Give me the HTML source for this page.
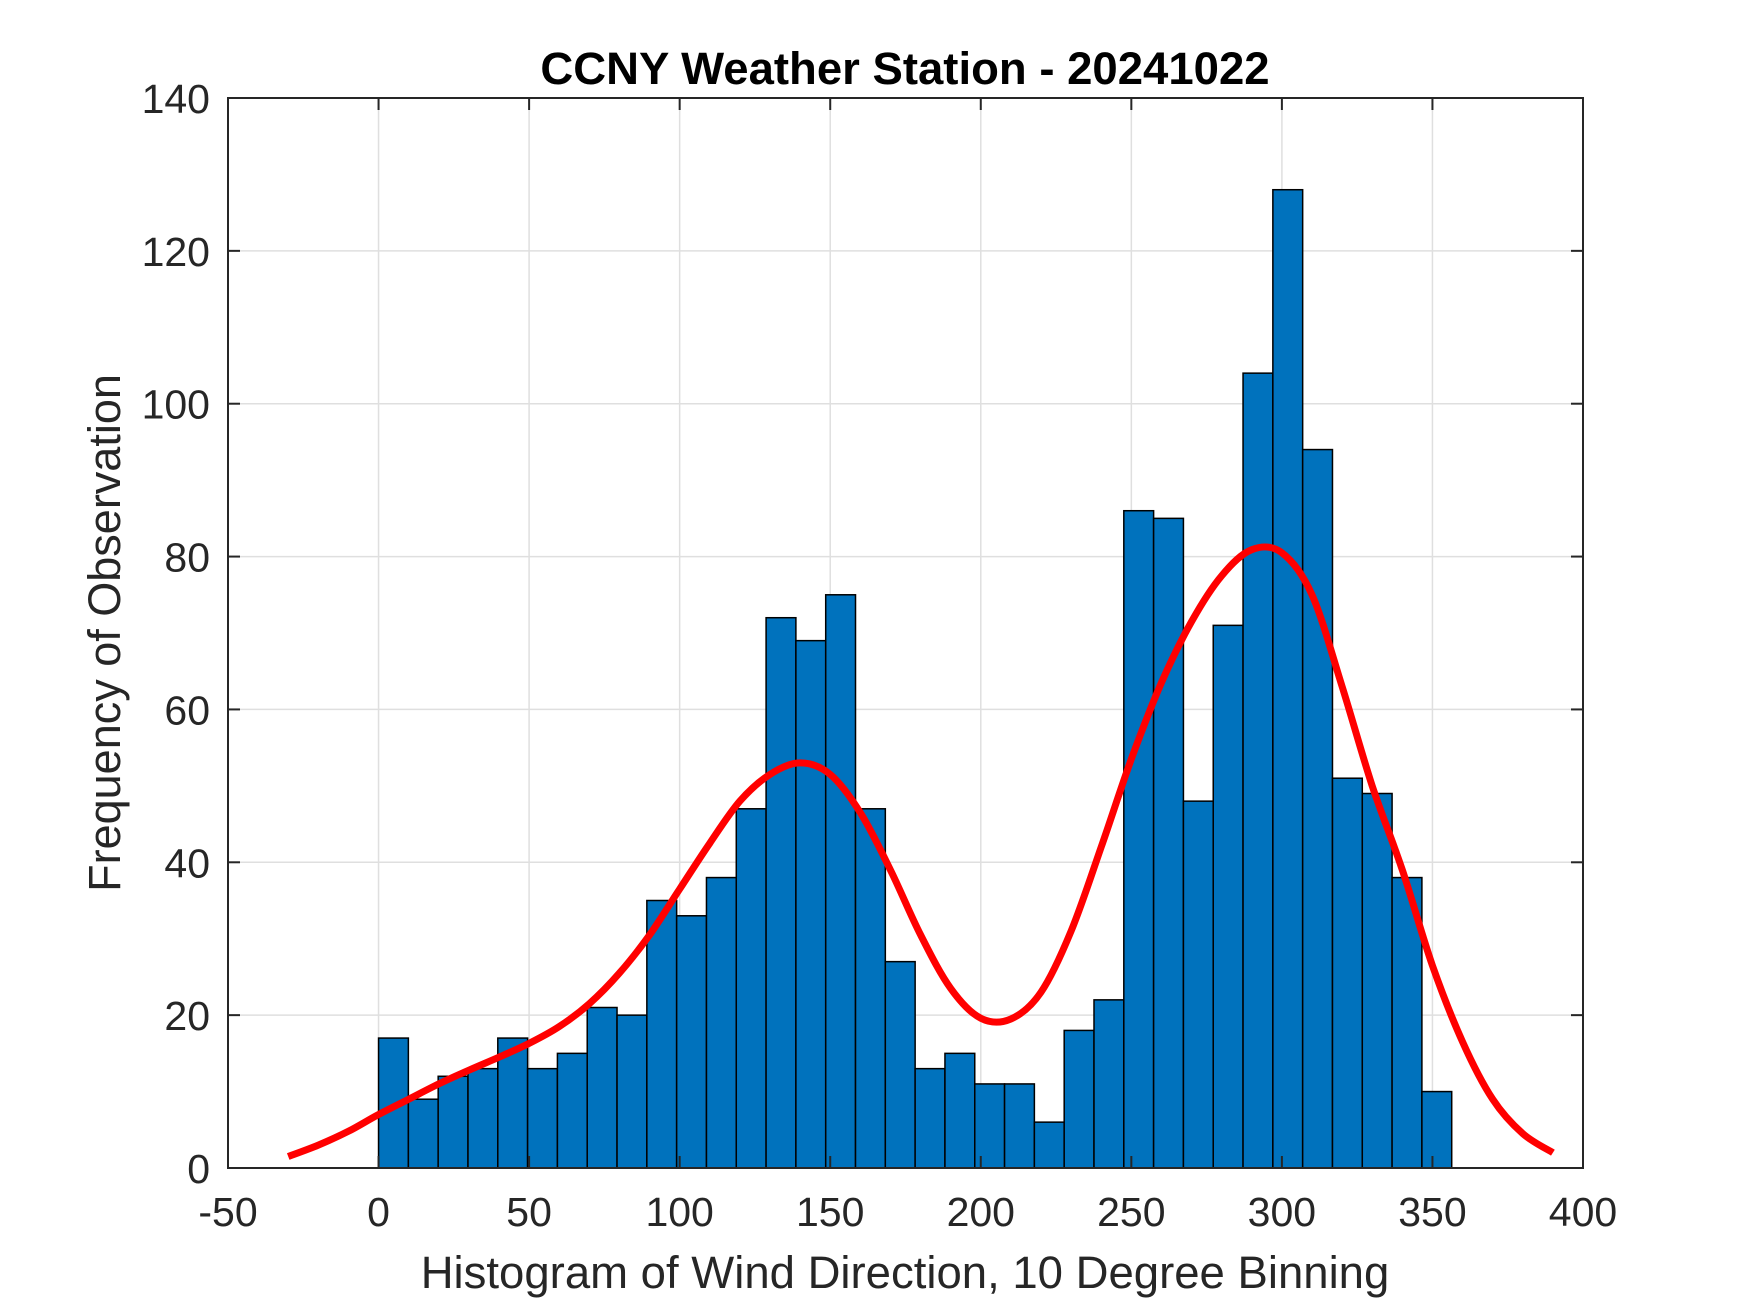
<!DOCTYPE html>
<html><head><meta charset="utf-8"><style>
html,body{margin:0;padding:0;background:#fff;}
svg{display:block;font-family:"Liberation Sans",Arial,sans-serif;}
</style></head><body>
<svg id="chart" width="1750" height="1313" viewBox="0 0 1750 1313" xmlns="http://www.w3.org/2000/svg">
<rect width="1750" height="1313" fill="#fff"/>
<g id="grid"></g>
<g id="bars"></g>
<g id="curve"></g>
<g id="axes"></g>
<text x="905" y="84" text-anchor="middle" font-size="45.5" font-weight="bold" fill="#000">CCNY Weather Station - 20241022</text>
<text x="905" y="1288" text-anchor="middle" font-size="45.5" fill="#262626">Histogram of Wind Direction, 10 Degree Binning</text>
<text transform="translate(120,633) rotate(-90)" text-anchor="middle" font-size="45" fill="#262626">Frequency of Observation</text>
</svg>
<script>
const binCounts=[17,9,12,13,17,13,15,21,20,35,33,38,47,72,69,75,47,27,13,15,11,11,6,18,22,86,85,48,71,104,128,94,51,49,38,10];
const binWidth=9.9;
const curveX=[-30,-20,-10,0,10,20,30,40,50,60,70,80,90,100,110,120,130,140,150,160,170,180,190,200,210,220,230,240,250,260,270,280,290,300,310,320,330,340,350,360,370,380,390];
const curveY=[1.5,3,4.8,7,9,11,12.8,14.5,16.3,18.5,21.5,25.5,30.5,36.5,42.5,48,51.5,53,51.5,46.5,39,30.5,23.5,19.6,19.5,23,31,42,53.5,63.5,71.5,77.5,80.9,80.5,75,63,50,39,26.5,16.5,9,4.5,2];
const xTicks=[-50,0,50,100,150,200,250,300,350,400];
const yTicks=[0,20,40,60,80,100,120,140];
const L=228,R=1583,T=98,B=1168,xmin=-50,xmax=400,ymin=0,ymax=140;
const sx=v=>L+(v-xmin)/(xmax-xmin)*(R-L);
const sy=v=>B-(v-ymin)/(ymax-ymin)*(B-T);
const NS='http://www.w3.org/2000/svg';
function mk(tag,attrs,parent){const e=document.createElementNS(NS,tag);for(const k in attrs)e.setAttribute(k,attrs[k]);parent.appendChild(e);return e;}
const grid=document.getElementById('grid'),bars=document.getElementById('bars'),curve=document.getElementById('curve'),axes=document.getElementById('axes');
xTicks.forEach(t=>{const g=mk('line',{x1:sx(t),x2:sx(t),y1:T,y2:B,stroke:'#dfdfdf','stroke-width':1.5},grid);

});
yTicks.forEach(t=>{const g=mk('line',{x1:L,x2:R,y1:sy(t),y2:sy(t),stroke:'#dfdfdf','stroke-width':1.5},grid);

});
binCounts.forEach((c,i)=>{const x0=sx(i*binWidth),x1=sx((i+1)*binWidth);
const r=mk('rect',{x:x0,y:sy(c),width:x1-x0,height:sy(0)-sy(c),fill:'#0072bd',stroke:'#000','stroke-width':1.5},bars);

});
const pts=curveX.map((x,i)=>[sx(x),sy(curveY[i])]);
let d='M'+pts[0][0].toFixed(1)+','+pts[0][1].toFixed(1);
for(let i=0;i<pts.length-1;i++){
  const p0=pts[Math.max(0,i-1)],p1=pts[i],p2=pts[i+1],p3=pts[Math.min(pts.length-1,i+2)];
  const c1=[p1[0]+(p2[0]-p0[0])/6,p1[1]+(p2[1]-p0[1])/6];
  const c2=[p2[0]-(p3[0]-p1[0])/6,p2[1]-(p3[1]-p1[1])/6];
  d+=' C'+c1[0].toFixed(1)+','+c1[1].toFixed(1)+' '+c2[0].toFixed(1)+','+c2[1].toFixed(1)+' '+p2[0].toFixed(1)+','+p2[1].toFixed(1);
}
const p=mk('path',{d:d,fill:'none',stroke:'#ff0000','stroke-width':7,'stroke-linejoin':'round'},curve);


const box=mk('rect',{x:L,y:T,width:R-L,height:B-T,fill:'none',stroke:'#262626','stroke-width':2},axes);


xTicks.forEach(t=>{mk('line',{x1:sx(t),x2:sx(t),y1:B,y2:B-12,stroke:'#262626','stroke-width':2},axes);
mk('line',{x1:sx(t),x2:sx(t),y1:T,y2:T+12,stroke:'#262626','stroke-width':2},axes);
const tx=mk('text',{x:sx(t),y:B+58,'text-anchor':'middle','font-size':41,fill:'#262626'},axes);tx.textContent=t;

});
yTicks.forEach(t=>{mk('line',{x1:L,x2:L+12,y1:sy(t),y2:sy(t),stroke:'#262626','stroke-width':2},axes);
mk('line',{x1:R,x2:R-12,y1:sy(t),y2:sy(t),stroke:'#262626','stroke-width':2},axes);
const tx=mk('text',{x:L-18,y:sy(t)+15,'text-anchor':'end','font-size':41,fill:'#262626'},axes);tx.textContent=t;

});
</script>
</body></html>
